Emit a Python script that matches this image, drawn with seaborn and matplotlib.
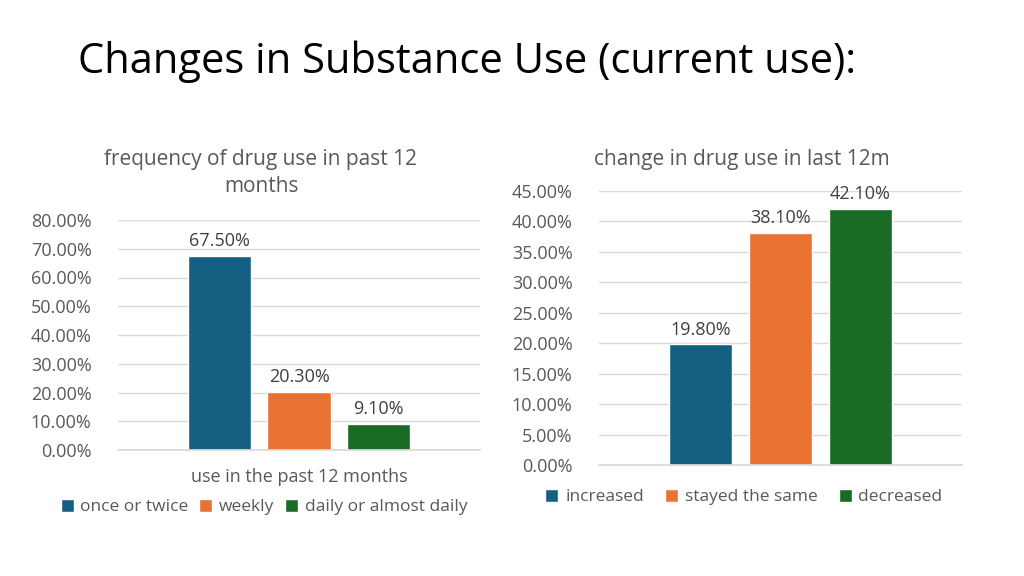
import numpy as np
import pandas as pd
import seaborn as sns
import matplotlib.pyplot as plt
from matplotlib.patches import Patch

sns.set_theme(style="white")
plt.rcParams['font.family'] = ['Open Sans', 'DejaVu Sans']

colors = ["#156082", "#E97132", "#196B24"]

freq_cat = ["use in the past 12 months"]
freq_labels = ["once or twice", "weekly", "daily or almost daily"]
freq_vals = [0.675, 0.203, 0.091]

chg_cat = [""]
chg_labels = ["increased", "stayed the same", "decreased"]
chg_vals = [0.198, 0.381, 0.421]

W, H = 1024, 576
fig = plt.figure(figsize=(W / 100, H / 100), dpi=100)


def px_axes(x0, x1, ytop, ybot):
    return fig.add_axes([x0 / W, 1 - ybot / H, (x1 - x0) / W, (ybot - ytop) / H])


def draw(ax, cat, labels, vals, ymax, step, legend_xy, colsp):
    df = pd.DataFrame({"cat": cat * len(labels), "kind": labels, "val": vals})
    sns.barplot(data=df, x="cat", y="val", hue="kind", palette=colors,
                width=0.8, gap=0.21, ax=ax, legend=False, saturation=1)
    ax.set_ylim(0, ymax)
    ax.set_xlim(-0.605, 0.605)
    ticks = np.arange(0, ymax + 1e-9, step)
    ax.set_yticks(ticks)
    ax.set_yticklabels([f"{t*100:.2f}%" for t in ticks], color="#595959", fontsize=13)
    ax.tick_params(axis="y", length=0, pad=19)
    ax.tick_params(axis="x", length=0, pad=13, labelsize=13, labelcolor="#595959")
    ax.grid(axis="y", color="#D9D9D9", linewidth=1)
    ax.set_axisbelow(True)
    for s in ["top", "right", "left"]:
        ax.spines[s].set_visible(False)
    ax.spines["bottom"].set_color("#D9D9D9")
    ax.set_xlabel("")
    ax.set_ylabel("")
    for c in ax.containers:
        ax.bar_label(c, labels=[f"{v*100:.2f}%" for v in c.datavalues],
                     padding=4, fontsize=13, color="#404040")
    handles = [Patch(facecolor=col, label=l) for col, l in zip(colors, labels)]
    ax.legend(handles=handles, loc="center",
              bbox_to_anchor=(legend_xy[0] / W, 1 - legend_xy[1] / H),
              bbox_transform=fig.transFigure,
              ncol=3, frameon=False, fontsize=12.5, handlelength=0.75,
              handleheight=0.75, handletextpad=0.4, columnspacing=colsp,
              labelcolor="#595959")


ax1 = px_axes(118, 480, 220, 450)
draw(ax1, freq_cat, freq_labels, freq_vals, 0.8, 0.1, (264, 507), 0.6)
ax2 = px_axes(599, 962, 191, 465)
draw(ax2, chg_cat, chg_labels, chg_vals, 0.45, 0.05, (744, 497), 1.2)

fig.text(78 / W, 1 - 62 / H, "Changes in Substance Use (current use):",
         fontsize=30, color="black", va="center", ha="left")
fig.text(261 / W, 1 - 173 / H, "frequency of drug use in past 12\nmonths",
         fontsize=15, color="#595959", ha="center", va="center", linespacing=1.4)
fig.text(742 / W, 1 - 159 / H, "change in drug use in last 12m",
         fontsize=15, color="#595959", ha="center", va="center")

fig.savefig("out.png", dpi=100)
